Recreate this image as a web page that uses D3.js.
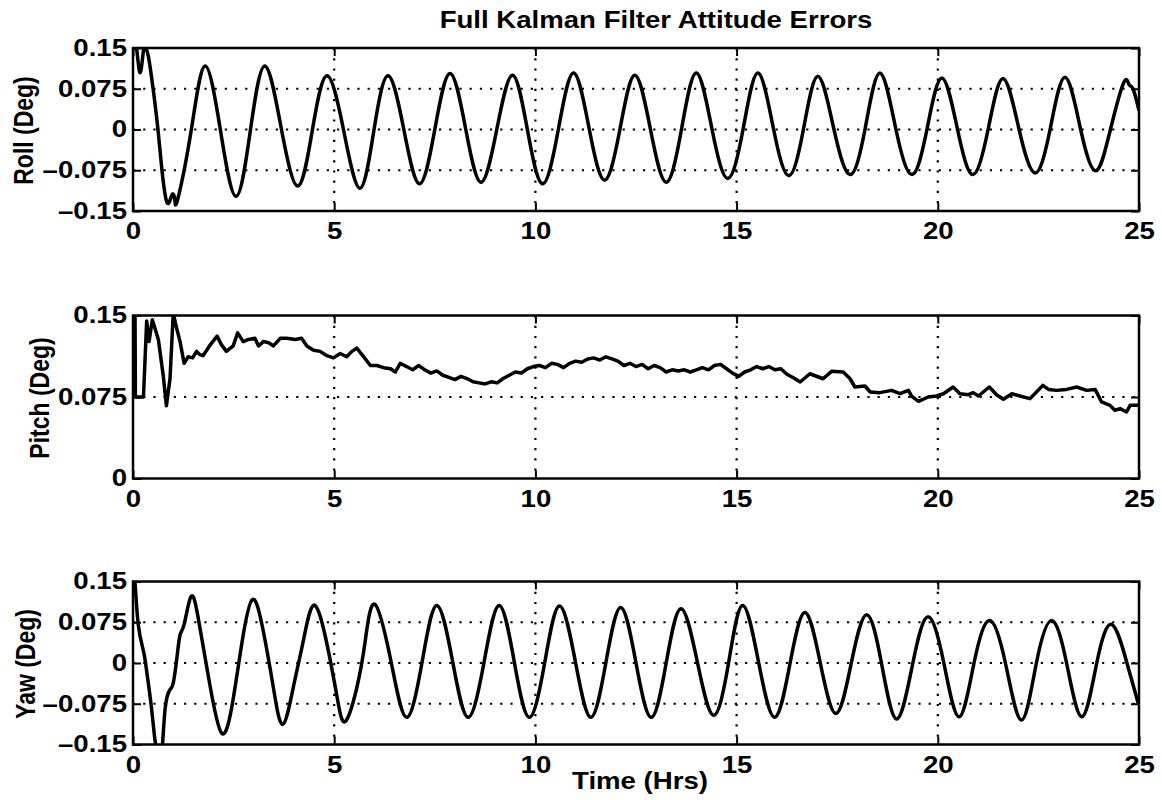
<!DOCTYPE html>
<html>
<script src="https://d3js.org/d3.v7.min.js"></script>
<title>Full Kalman Filter Attitude Errors</title>
<style>
  body { margin: 0; background: #fff; }
  text { font-family: "Liberation Sans", Arial, sans-serif; font-weight: bold; font-size: 23px; fill: #000; }
</style>
<body>
<svg width="1162" height="804"></svg>
<script>
const chartTitle = "Full Kalman Filter Attitude Errors";
const xLabel = "Time (Hrs)";
const xTicks = [0, 5, 10, 15, 20, 25];
const xTickLabels = ["0", "5", "10", "15", "20", "25"];
const angleTicks = [-0.15, -0.075, 0, 0.075, 0.15];
const angleTickLabels = ["\u20130.15", "\u20130.075", "0", "0.075", "0.15"];
const pitchTicks = [0, 0.075, 0.15];
const pitchTickLabels = ["0", "0.075", "0.15"];
const panelLabels = ["Roll (Deg)", "Pitch (Deg)", "Yaw (Deg)"];

// [hours, degrees]
const rollSeries = [
  [0, 0.16], [0.08, 0.155], [0.17, 0.105], [0.25, 0.14], [0.3, 0.152], [0.38, 0.135],
  [0.5, 0.075], [0.62, 0], [0.72, -0.075], [0.85, -0.135], [0.97, -0.12], [1.04, -0.13],
  [1.12, -0.126], [1.45, 0], [1.79, 0.117], [2.17, 0], [2.56, -0.123], [2.92, 0],
  [3.28, 0.117], [3.69, 0], [4.1, -0.104], [4.46, 0], [4.82, 0.099], [5.23, 0],
  [5.64, -0.108], [5.99, 0], [6.34, 0.099], [6.73, 0], [7.12, -0.1], [7.5, 0],
  [7.88, 0.103], [8.27, 0], [8.65, -0.097], [9.04, 0], [9.43, 0.1], [9.8, 0],
  [10.18, -0.1], [10.57, 0], [10.95, 0.104], [11.34, 0], [11.72, -0.093], [12.1, 0],
  [12.47, 0.1], [12.86, 0], [13.25, -0.097], [13.63, 0], [14.0, 0.104], [14.39, 0],
  [14.78, -0.09], [15.16, 0], [15.53, 0.104], [15.92, 0], [16.3, -0.085], [16.66, 0],
  [17.02, 0.098], [17.42, 0], [17.82, -0.083], [18.19, 0], [18.56, 0.104], [18.96, 0],
  [19.36, -0.083], [19.73, 0], [20.1, 0.095], [20.49, 0], [20.87, -0.083], [21.25, 0],
  [21.62, 0.094], [22.02, 0], [22.42, -0.08], [22.79, 0], [23.16, 0.096], [23.55, 0],
  [23.93, -0.076], [24.29, 0], [24.62, 0.086], [24.75, 0.083], [24.85, 0.075], [25.0, 0.035]
];

const pitchSeries = [
  [0, 0.16], [0.05, 0.155], [0.06, 0.075], [0.26, 0.075], [0.34, 0.145], [0.4, 0.126],
  [0.48, 0.146], [0.54, 0.139], [0.63, 0.128], [0.75, 0.095], [0.83, 0.067], [0.92, 0.092],
  [1.0, 0.152], [1.08, 0.139], [1.17, 0.126], [1.27, 0.106], [1.37, 0.112], [1.48, 0.111],
  [1.58, 0.117], [1.66, 0.114], [1.74, 0.113], [1.9, 0.122], [2.09, 0.131], [2.2, 0.123],
  [2.32, 0.117], [2.49, 0.122], [2.6, 0.134], [2.74, 0.126], [2.87, 0.128], [3.03, 0.129],
  [3.12, 0.122], [3.24, 0.126], [3.37, 0.125], [3.49, 0.122], [3.66, 0.129], [3.82, 0.129],
  [4.03, 0.128], [4.19, 0.129], [4.32, 0.122], [4.49, 0.118], [4.65, 0.117], [4.82, 0.113],
  [4.98, 0.111], [5.15, 0.115], [5.31, 0.112], [5.44, 0.117], [5.56, 0.12], [5.69, 0.114],
  [5.9, 0.104], [6.06, 0.104], [6.23, 0.102], [6.4, 0.101], [6.52, 0.098], [6.64, 0.106],
  [6.8, 0.103], [6.95, 0.1], [7.1, 0.104], [7.25, 0.1], [7.4, 0.097], [7.55, 0.099],
  [7.7, 0.095], [7.85, 0.093], [8.0, 0.091], [8.15, 0.094], [8.3, 0.092], [8.45, 0.089],
  [8.6, 0.088], [8.75, 0.087], [8.9, 0.089], [9.05, 0.088], [9.2, 0.092], [9.35, 0.095],
  [9.5, 0.098], [9.65, 0.097], [9.8, 0.101], [9.95, 0.103], [10.1, 0.104], [10.25, 0.102],
  [10.4, 0.106], [10.55, 0.105], [10.7, 0.102], [10.85, 0.106], [11.0, 0.108], [11.15, 0.107],
  [11.3, 0.11], [11.45, 0.111], [11.6, 0.109], [11.75, 0.112], [11.9, 0.11], [12.05, 0.108],
  [12.2, 0.104], [12.35, 0.106], [12.5, 0.103], [12.65, 0.105], [12.8, 0.101], [12.95, 0.104],
  [13.1, 0.102], [13.25, 0.098], [13.4, 0.1], [13.55, 0.099], [13.7, 0.1], [13.85, 0.098],
  [14.0, 0.1], [14.15, 0.102], [14.3, 0.1], [14.45, 0.104], [14.6, 0.105], [14.75, 0.101],
  [14.9, 0.097], [15.05, 0.094], [15.2, 0.098], [15.35, 0.1], [15.5, 0.103], [15.65, 0.101],
  [15.8, 0.103], [15.95, 0.1], [16.1, 0.101], [16.25, 0.096], [16.4, 0.093], [16.58, 0.0888],
  [16.82, 0.0964], [17.15, 0.0918], [17.36, 0.0986], [17.65, 0.098], [17.82, 0.0918], [17.94, 0.0842],
  [18.19, 0.0851], [18.32, 0.0796], [18.56, 0.079], [18.85, 0.0811], [19.06, 0.078], [19.27, 0.0811],
  [19.35, 0.0759], [19.52, 0.071], [19.76, 0.075], [19.97, 0.0759], [20.14, 0.078], [20.38, 0.0842],
  [20.55, 0.078], [20.76, 0.0771], [20.88, 0.079], [21.01, 0.0759], [21.28, 0.0842], [21.46, 0.0771],
  [21.63, 0.0729], [21.84, 0.078], [22.04, 0.0759], [22.29, 0.0735], [22.41, 0.078], [22.61, 0.0857],
  [22.75, 0.082], [22.95, 0.0811], [23.2, 0.082], [23.45, 0.0842], [23.7, 0.0811], [23.91, 0.082],
  [24.07, 0.0704], [24.28, 0.0673], [24.4, 0.0628], [24.53, 0.0643], [24.69, 0.0612], [24.78, 0.0673],
  [24.98, 0.0673]
];

const yawSeries = [
  [0, 0.16], [0.05, 0.148], [0.13, 0.071], [0.26, 0.022], [0.34, -0.015], [0.46, -0.083],
  [0.55, -0.144], [0.63, -0.165], [0.72, -0.16], [0.8, -0.083], [0.92, -0.049], [1.0, -0.037],
  [1.09, 0.009], [1.17, 0.052], [1.27, 0.071], [1.44, 0.122], [1.62, 0.083], [1.91, -0.04],
  [2.2, -0.129], [2.45, -0.083], [2.7, 0.034], [2.97, 0.117], [3.24, 0.058], [3.49, -0.046],
  [3.72, -0.113], [3.98, -0.046], [4.23, 0.04], [4.48, 0.106], [4.77, 0.052], [5.06, -0.058],
  [5.27, -0.108], [5.56, -0.046], [5.77, 0.04], [6.01, 0.108], [6.42, 0], [6.8, -0.1],
  [7.18, 0], [7.55, 0.106], [7.95, 0], [8.33, -0.1], [8.72, 0], [9.1, 0.106],
  [9.48, 0], [9.85, -0.1], [10.23, 0], [10.6, 0.105], [11.0, 0], [11.38, -0.1],
  [11.75, 0], [12.12, 0.102], [12.5, 0], [12.88, -0.1], [13.25, 0], [13.62, 0.1],
  [14.03, 0], [14.43, -0.096], [14.8, 0], [15.15, 0.106], [15.55, 0], [15.95, -0.1],
  [16.33, 0], [16.7, 0.093], [17.08, 0], [17.47, -0.093], [17.85, 0], [18.23, 0.089],
  [18.6, 0], [18.98, -0.103], [19.38, 0], [19.76, 0.085], [20.15, 0], [20.53, -0.099],
  [20.9, 0], [21.28, 0.078], [21.68, 0], [22.08, -0.105], [22.45, 0], [22.83, 0.078],
  [23.2, 0], [23.58, -0.099], [23.95, 0], [24.32, 0.071], [24.7, 0], [24.98, -0.074]
];

const svg = d3.select("svg");
const left = 133, W = 1006, H = 163;
const tops = [48, 315.5, 581.5];
const labelX = [33, 49, 35];
const SX = 1.2; // the scanned figure is stretched sideways

const panels = [
  { data: rollSeries, ticks: angleTicks, labels: angleTickLabels, curve: d3.curveNatural },
  { data: pitchSeries, ticks: pitchTicks, labels: pitchTickLabels, curve: d3.curveLinear },
  { data: yawSeries, ticks: angleTicks, labels: angleTickLabels, curve: d3.curveNatural }
];

const x = d3.scaleLinear().domain([0, 25]).range([0, W]);

panels.forEach((p, k) => {
  const g = svg.append("g").attr("transform", "translate(" + left + "," + tops[k] + ")");
  const y = d3.scaleLinear().domain([p.ticks[0], p.ticks[p.ticks.length - 1]]).range([H, 0]);

  // dotted grid
  g.selectAll(".vg").data(xTicks.slice(1, -1)).join("line")
    .attr("x1", d => x(d)).attr("x2", d => x(d)).attr("y1", 0).attr("y2", H)
    .attr("stroke", "#000").attr("stroke-width", 2.2).attr("stroke-dasharray", "2.2,8");
  g.selectAll(".hg").data(p.ticks.slice(1, -1)).join("line")
    .attr("x1", 0).attr("x2", W).attr("y1", d => y(d)).attr("y2", d => y(d))
    .attr("stroke", "#000").attr("stroke-width", 2.2).attr("stroke-dasharray", "2.2,8");

  svg.append("clipPath").attr("id", "clip" + k)
    .append("rect").attr("width", W).attr("height", H);

  g.append("path").datum(p.data)
    .attr("clip-path", "url(#clip" + k + ")")
    .attr("fill", "none").attr("stroke", "#000").attr("stroke-width", 3.5)
    .attr("stroke-linejoin", "round")
    .attr("d", d3.line().x(d => x(d[0])).y(d => y(d[1])).curve(p.curve));

  // axes, ticks pointing inward
  const bottom = g.append("g").attr("transform", "translate(0," + H + ")")
    .call(d3.axisBottom(x).tickValues(xTicks).tickFormat((d, i) => xTickLabels[i]).tickSize(-8).tickPadding(12));
  const leftAx = g.append("g")
    .call(d3.axisLeft(y).tickValues(p.ticks).tickFormat((d, i) => p.labels[i]).tickSize(-8).tickPadding(5));
  const topAx = g.append("g")
    .call(d3.axisTop(x).tickValues(xTicks).tickFormat("").tickSize(-8));
  const rightAx = g.append("g").attr("transform", "translate(" + W + ",0)")
    .call(d3.axisRight(y).tickValues(p.ticks).tickFormat("").tickSize(-8));

  [bottom, leftAx, topAx, rightAx].forEach(a => {
    a.select(".domain").remove();
    a.selectAll("line").attr("stroke-width", 2);
    a.selectAll("text").attr("transform", "scale(" + SX + ",1)");
  });

  g.append("rect").attr("width", W).attr("height", H)
    .attr("fill", "none").attr("stroke", "#000").attr("stroke-width", 2.5);

  svg.append("text")
    .attr("transform", "translate(" + labelX[k] + "," + (tops[k] + H / 2 + 1) + ") scale(" + SX + ",1) rotate(-90)")
    .attr("text-anchor", "middle")
    .text(panelLabels[k]);
});

svg.append("text")
  .attr("transform", "translate(656,28) scale(" + SX + ",1)")
  .attr("text-anchor", "middle")
  .text(chartTitle);

svg.append("text")
  .attr("transform", "translate(640,789) scale(" + SX + ",1)")
  .attr("text-anchor", "middle")
  .text(xLabel);
</script>
</body>
</html>
